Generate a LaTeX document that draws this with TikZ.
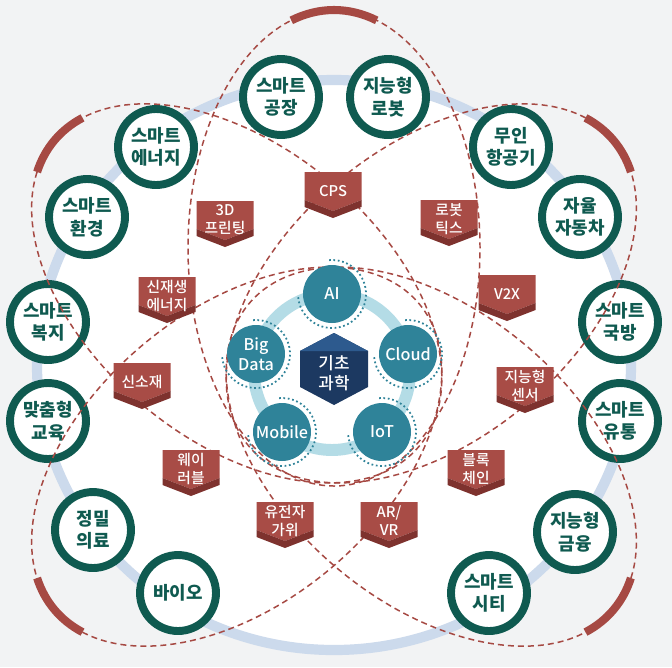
\documentclass[tikz,border=0pt]{standalone}
\usepackage{fontspec}
\setmainfont{Noto Sans CJK KR}
\IfFontExistsTF{Noto Sans CJK KR Medium}
  {\newfontfamily\medfont{Noto Sans CJK KR Medium}}
  {\newfontfamily\medfont{Noto Sans CJK KR}[FakeBold=0.6]}

\definecolor{bggrey}{HTML}{F2F3F4}
\definecolor{ringblue}{HTML}{CCDAEC}
\definecolor{areagreen}{HTML}{0F5A50}
\definecolor{petalred}{HTML}{A64943}
\definecolor{tagred}{HTML}{A84C46}
\definecolor{tagdark}{HTML}{7E322E}
\definecolor{techteal}{HTML}{2F8399}
\definecolor{hubblue}{HTML}{B4DCE6}
\definecolor{hexnavy}{HTML}{1C3961}
\definecolor{hextop}{HTML}{2D5A8E}

% 赤いタグ (名前, x, 上端 y, テキスト)
\newcommand{\ribbontag}[4]{%
  \fill[tagred] (#2-28.5,#3) -- (#2+28.5,#3) -- (#2+28.5,#3+28) -- (#2,#3+39) -- (#2-28.5,#3+28) -- cycle;
  \fill[tagdark] (#2-28.5,#3+28) -- (#2,#3+39) -- (#2+28.5,#3+28) -- (#2+28.5,#3+35) -- (#2,#3+46) -- (#2-28.5,#3+35) -- cycle;
  \node[tagtext] (#1) at (#2,#3+19) {#4};
}

\begin{document}
\begin{tikzpicture}[x=0.02cm, y=-0.02cm,
    areacircle/.style={circle, draw=areagreen, line width=4.5pt, fill=white, minimum size=1.52cm, inner sep=0pt,
      align=center, text=areagreen, font=\fontsize{10.2}{12.8}\selectfont\bfseries},
    techcircle/.style={circle, fill=techteal, minimum size=1.16cm, inner sep=0pt,
      align=center, text=white, font=\medfont\fontsize{9.2}{11.3}\selectfont},
    techdots/.style={draw=techteal, line width=1pt, dash pattern=on 1pt off 1.5pt},
    petal/.style={draw=petalred, line width=0.85pt, dash pattern=on 3.4pt off 2.3pt},
    petaltip/.style={draw=petalred, line width=4.6pt},
    tagtext/.style={align=center, text=white, inner sep=0pt, font=\medfont\fontsize{8.4}{10.2}\selectfont},
  ]
    % 背景
    \useasboundingbox (0,0) rectangle (672,667);
    \fill[bggrey] (0,0) rectangle (672,667);
    \draw[draw=ringblue, line width=5.8pt, fill=white] (334,365) ellipse [x radius=297, y radius=285];

    % 応用分野
    \node[areacircle] (factory) at (281,97) {스마트\\공장};
    \node[areacircle] (robot) at (388,97) {지능형\\로봇};
    \node[areacircle] (drone) at (511,147) {무인\\항공기};
    \node[areacircle] (car) at (580,217) {자율\\자동차};
    \node[areacircle] (defense) at (620,322) {스마트\\국방};
    \node[areacircle] (logistics) at (620,421) {스마트\\유통};
    \node[areacircle] (finance) at (575,532) {지능형\\금융};
    \node[areacircle] (city) at (489,593) {스마트\\시티};
    \node[areacircle] (bio) at (178,593) {바이오};
    \node[areacircle] (medical) at (93,530) {정밀\\의료};
    \node[areacircle] (education) at (48,421) {맞춤형\\교육};
    \node[areacircle] (welfare) at (48,322) {스마트\\복지};
    \node[areacircle] (environment) at (87,217) {스마트\\환경};
    \node[areacircle] (energy) at (156,147) {스마트\\에너지};

    % 花びら
    \begin{scope}[shift={(334,375)}, rotate=90]
      \draw[petal] (127,0) ellipse [x radius=238, y radius=146];
      \draw[petaltip] (127,0) ++(-17:238 and 146) arc [start angle=-17, end angle=17, x radius=238, y radius=146];
    \end{scope}
    \begin{scope}[shift={(334,375)}, rotate=140]
      \draw[petal] (127,0) ellipse [x radius=238, y radius=146];
      \draw[petaltip] (127,0) ++(-14:238 and 146) arc [start angle=-14, end angle=14, x radius=238, y radius=146];
    \end{scope}
    \begin{scope}[shift={(334,375)}, rotate=40]
      \draw[petal] (127,0) ellipse [x radius=238, y radius=146];
      \draw[petaltip] (127,0) ++(-14:238 and 146) arc [start angle=-14, end angle=14, x radius=238, y radius=146];
    \end{scope}
    \begin{scope}[shift={(334,375)}, rotate=220]
      \draw[petal] (127,0) ellipse [x radius=238, y radius=146];
      \draw[petaltip] (127,0) ++(-14:238 and 146) arc [start angle=-14, end angle=14, x radius=238, y radius=146];
    \end{scope}
    \begin{scope}[shift={(334,375)}, rotate=320]
      \draw[petal] (127,0) ellipse [x radius=238, y radius=146];
      \draw[petaltip] (127,0) ++(-14:238 and 146) arc [start angle=-14, end angle=14, x radius=238, y radius=146];
    \end{scope}

    % 中心技術
    \draw[hubblue, line width=6.8pt] (332,372) circle [radius=1.56cm];
    \node[techcircle] (ai) at (332,294) {AI};
    \node[techcircle] (cloud) at (408,354) {Cloud};
    \node[techcircle] (iot) at (382,432) {IoT};
    \node[techcircle] (mobile) at (282,432) {Mobile};
    \node[techcircle] (bigdata) at (256,354) {Big\\Data};
    \draw[techdots] (ai) ++(95:0.68cm) arc [start angle=95, end angle=-175, radius=0.68cm];
    \draw[techdots] (cloud) ++(95:0.68cm) arc [start angle=95, end angle=-175, radius=0.68cm];
    \draw[techdots] (iot) ++(95:0.68cm) arc [start angle=95, end angle=-175, radius=0.68cm];
    \draw[techdots] (mobile) ++(95:0.68cm) arc [start angle=95, end angle=-175, radius=0.68cm];
    \draw[techdots] (bigdata) ++(95:0.68cm) arc [start angle=95, end angle=-175, radius=0.68cm];

    % 基礎科学
    \fill[hexnavy] (334,333) -- (368,351) -- (368,387) -- (334,405) -- (300,387) -- (300,351) -- cycle;
    \fill[hextop] (300,351) -- (334,333) -- (368,351) -- cycle;
    \node[align=center, text=white, font=\medfont\fontsize{9.6}{11.3}\selectfont] (core) at (334,373) {기초\\과학};

    % タグ
    \ribbontag{cps}{333}{172}{CPS}
    \ribbontag{printing}{225}{201}{3D\\프린팅}
    \ribbontag{robotics}{449}{200}{로봇\\틱스}
    \ribbontag{renewable}{167}{277}{신재생\\에너지}
    \ribbontag{vtox}{507}{275}{V2X}
    \ribbontag{material}{142}{363}{신소재}
    \ribbontag{sensor}{525}{367}{지능형\\센서}
    \ribbontag{wearable}{191}{450}{웨이\\러블}
    \ribbontag{blockchain}{476}{450}{블록\\체인}
    \ribbontag{gene}{285}{502}{유전자\\가위}
    \ribbontag{arvr}{389}{502}{AR/\\VR}
\end{tikzpicture}
\end{document}
